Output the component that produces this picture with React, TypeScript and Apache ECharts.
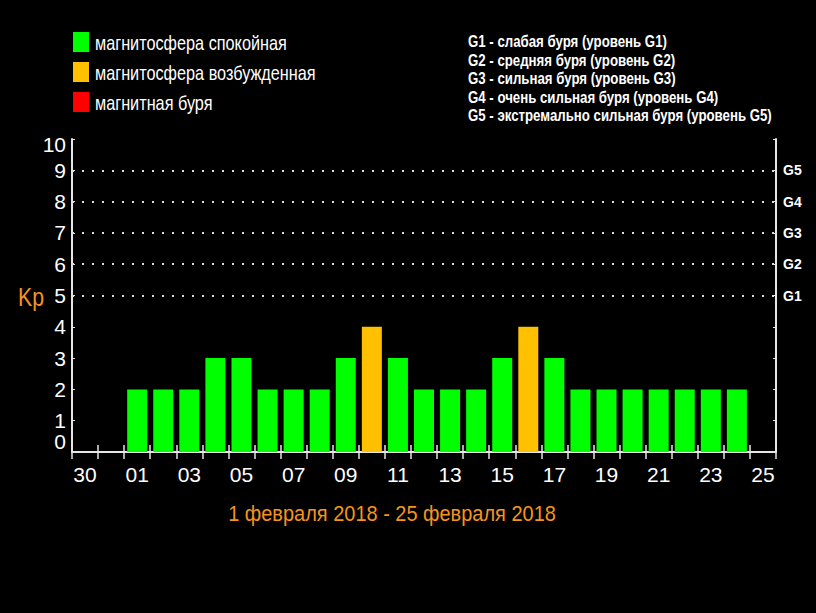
import React, { useEffect, useRef } from "react";
import * as echarts from "echarts";

const days = ["30", "31", "01", "02", "03", "04", "05", "06", "07", "08", "09", "10", "11", "12", "13", "14", "15", "16", "17", "18", "19", "20", "21", "22", "23", "24", "25"];
const kpValues: (number | null)[] = [null, null, 2, 2, 2, 3, 3, 2, 2, 2, 3, 4, 3, 2, 2, 2, 3, 4, 3, 2, 2, 2, 2, 2, 2, 2, null];
const stateLabels = ["магнитосфера спокойная", "магнитосфера возбужденная", "магнитная буря"];
const stateColors = ["#00ff00", "#ffc000", "#ff0000"];
const stormLegend = [
  "G1 - слабая буря (уровень G1)",
  "G2 - средняя буря (уровень G2)",
  "G3 - сильная буря (уровень G3)",
  "G4 - очень сильная буря (уровень G4)",
  "G5 - экстремально сильная буря (уровень G5)",
];
const gLevels = ["G1", "G2", "G3", "G4", "G5"];
const gridLevels = [5, 6, 7, 8, 9];
const periodTitle = "1 февраля 2018 - 25 февраля 2018";

const FONT = '"Liberation Sans", Arial, sans-serif';
const ORANGE = "#f7941d";
const AXIS = "#e6e6e6";

function colorFor(v: number) {
  if (v >= 5) return stateColors[2];
  if (v >= 4) return stateColors[1];
  return stateColors[0];
}

function measure(text: string, font: string) {
  const ctx = document.createElement("canvas").getContext("2d");
  if (!ctx) return 1;
  ctx.font = font;
  return ctx.measureText(text).width || 1;
}

export default function App() {
  const ref = useRef<HTMLDivElement>(null);
  useEffect(() => {
    if (!ref.current) return;
    const chart = echarts.init(ref.current, null, { renderer: "svg" });
    const graphic: any[] = [];

    const stateFont = `20px ${FONT}`;
    const stateScale = 192 / measure(stateLabels[0], stateFont);
    stateLabels.forEach((t, i) => {
      graphic.push({
        type: "rect",
        shape: { x: 73, y: 32 + i * 30, width: 16, height: 20 },
        style: { fill: stateColors[i] },
      });
      graphic.push({
        type: "text",
        x: 95,
        y: 43 + i * 30,
        scaleX: stateScale,
        style: { text: t, fill: "#ffffff", font: stateFont, verticalAlign: "middle" },
      });
    });

    const stormFont = `bold 16px ${FONT}`;
    const stormScale = 304 / measure(stormLegend[4], stormFont);
    stormLegend.forEach((t, i) => {
      graphic.push({
        type: "text",
        x: 468,
        y: 42 + i * 18.5,
        scaleX: stormScale,
        style: { text: t, fill: "#ffffff", font: stormFont, verticalAlign: "middle" },
      });
    });

    graphic.push({
      type: "text",
      x: 31,
      y: 297,
      scaleX: 0.85,
      style: { text: "Kp", fill: ORANGE, font: `25px ${FONT}`, align: "center", verticalAlign: "middle" },
    });

    const titleFont = `22px ${FONT}`;
    const titleScale = 328 / measure(periodTitle, titleFont);
    graphic.push({
      type: "text",
      x: 392,
      y: 513,
      scaleX: titleScale,
      style: { text: periodTitle, fill: ORANGE, font: titleFont, align: "center", verticalAlign: "middle" },
    });

    chart.setOption({
      animation: false,
      backgroundColor: "#000000",
      grid: { left: 72, right: 40, top: 139, bottom: 161 },
      graphic,
      xAxis: [
        {
          type: "category",
          data: days,
          position: "bottom",
          axisLine: { lineStyle: { color: AXIS, width: 2 } },
          axisTick: { show: true, inside: true, length: 7, interval: 0, lineStyle: { color: AXIS, width: 1.5 } },
          axisLabel: { interval: 1, color: "#ffffff", fontSize: 21, fontFamily: FONT, margin: 12 },
          splitLine: { show: false },
        },
        {
          type: "category",
          data: days,
          position: "top",
          axisLine: { lineStyle: { color: AXIS, width: 2 } },
          axisTick: { show: true, inside: true, length: 7, interval: 0, lineStyle: { color: AXIS, width: 1.5 } },
          axisLabel: { show: false },
          splitLine: { show: false },
        },
      ],
      yAxis: [
        {
          type: "value",
          min: 0,
          max: 10,
          interval: 1,
          position: "left",
          axisLine: { show: true, lineStyle: { color: AXIS, width: 2 } },
          axisTick: { show: true, inside: true, length: 3, lineStyle: { color: AXIS } },
          axisLabel: {
            color: "#ffffff",
            fontSize: 21,
            fontFamily: FONT,
            margin: 6,
            showMinLabel: true,
            showMaxLabel: true,
            hideOverlap: false,
            verticalAlignMinLabel: "bottom",
            formatter: (v: number) => (v === 10 ? "{mx|10}" : String(v)),
            rich: {
              mx: { color: "#ffffff", fontSize: 21, fontFamily: FONT, padding: [10, 0, 0, 0] },
            },
          },
          splitLine: { show: false },
        },
        {
          type: "value",
          min: 0,
          max: 10,
          interval: 1,
          position: "right",
          axisLine: { show: true, lineStyle: { color: AXIS, width: 2 } },
          axisTick: { show: true, inside: true, length: 3, lineStyle: { color: AXIS } },
          axisLabel: {
            color: "#ffffff",
            fontSize: 14,
            fontWeight: "bold",
            fontFamily: FONT,
            margin: 7,
            formatter: (v: number) => {
              const idx = gridLevels.indexOf(v);
              return idx >= 0 ? gLevels[idx] : "";
            },
          },
          splitLine: { show: false },
        },
      ],
      series: [
        {
          type: "bar",
          xAxisIndex: 0,
          yAxisIndex: 0,
          barWidth: 20,
          data: kpValues.map((v) => (v == null ? null : { value: v, itemStyle: { color: colorFor(v) } })),
          markLine: {
            silent: true,
            symbol: "none",
            label: { show: false },
            lineStyle: { color: "#dddddd", type: [2, 8], width: 2 },
            data: gridLevels.map((y) => ({ yAxis: y })),
          },
        },
      ],
    });
    return () => chart.dispose();
  }, []);
  return (
    <div
      ref={ref}
      style={{ position: "fixed", left: 0, top: 0, width: 816, height: 613, background: "#000" }}
    />
  );
}
